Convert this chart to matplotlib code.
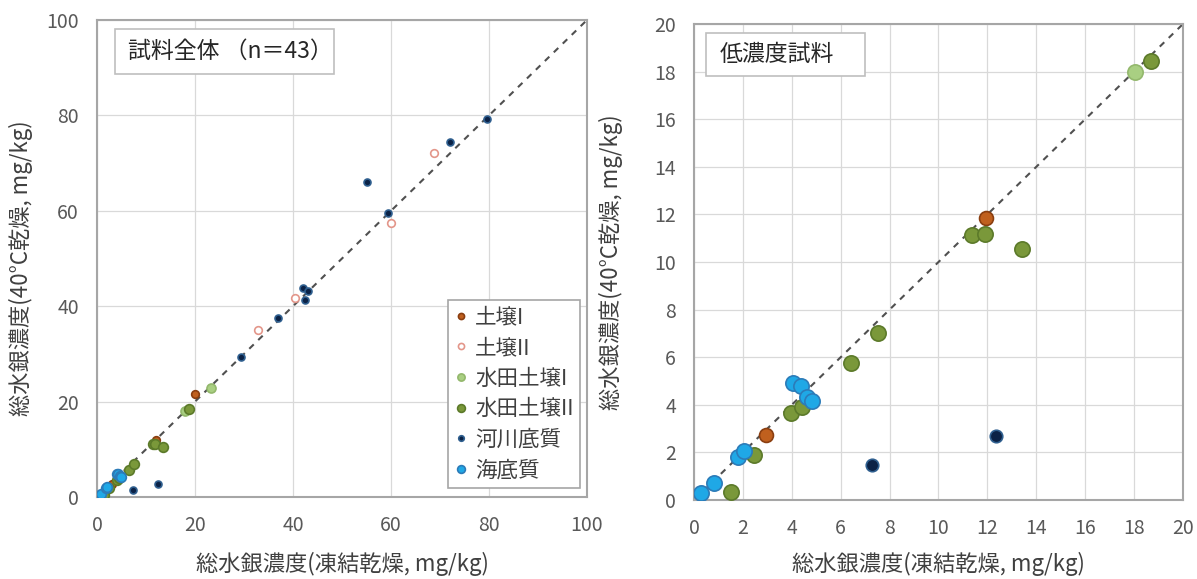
import matplotlib
matplotlib.use('Agg')
import matplotlib.pyplot as plt
from matplotlib.patches import Rectangle

plt.rcParams['font.family'] = ['Noto Sans CJK JP', 'DejaVu Sans']

# 凍結乾燥 (x) と 40°C乾燥 (y) の総水銀濃度, mg/kg
soil1_x = [2.96, 11.94, 20.1]
soil1_y = [2.72, 11.86, 21.5]
soil2_x = [32.8, 40.4, 60.1, 68.7]
soil2_y = [35.0, 41.8, 57.4, 72.2]
paddy1_x = [18.03, 23.2]
paddy1_y = [17.97, 22.8]
paddy2_x = [1.50, 2.44, 3.98, 4.41, 6.43, 7.53, 11.37, 11.92, 13.42, 18.71]
paddy2_y = [0.35, 1.90, 3.66, 3.89, 5.75, 7.01, 11.15, 11.19, 10.56, 18.43]
river_x = [7.26, 12.36, 29.4, 36.9, 42.4, 42.0, 43.1, 55.2, 59.3, 72.0, 79.5]
river_y = [1.48, 2.70, 29.4, 37.5, 41.3, 43.8, 43.2, 66.0, 59.5, 74.5, 79.2]
marine_x = [0.28, 0.82, 1.78, 2.05, 4.05, 4.38, 4.62, 4.83]
marine_y = [0.30, 0.70, 1.80, 2.06, 4.92, 4.79, 4.33, 4.16]

series = [
    ('土壌I', soil1_x, soil1_y, '#C0601E', '#8A3E10', 5.5, 10),
    ('土壌II', soil2_x, soil2_y, 'white', '#E3968A', 5.5, 9),
    ('水田土壌I', paddy1_x, paddy1_y, '#A9CF82', '#93B86C', 6.5, 11),
    ('水田土壌II', paddy2_x, paddy2_y, '#7A983A', '#5C7A2A', 7, 11),
    ('河川底質', river_x, river_y, '#0B2246', '#2F5F8F', 5, 9),
    ('海底質', marine_x, marine_y, '#1FA8E6', '#2C7BB8', 7, 11),
]

tick_color = '#595959'
grid_color = '#D9D9D9'
frame_color = '#A6A6A6'


def style_axes(ax, lim, step):
    ax.set_xlim(0, lim)
    ax.set_ylim(0, lim)
    ticks = list(range(0, lim + 1, step))
    ax.set_xticks(ticks)
    ax.set_yticks(ticks)
    ax.grid(True, color=grid_color, lw=0.9, zorder=0)
    ax.set_axisbelow(True)
    ax.tick_params(length=0, pad=13, labelsize=14, colors=tick_color)
    for sp in ax.spines.values():
        sp.set_color(frame_color)
        sp.set_linewidth(1.5)
    ax.plot([0, lim], [0, lim], ls=(0, (3, 3)), color='#505050', lw=1.5, zorder=2)
    ax.set_xlabel('総水銀濃度(凍結乾燥, mg/kg)', fontsize=16, color='#404040')
    ax.set_ylabel('総水銀濃度(40°C乾燥, mg/kg)', fontsize=16, color='#404040')


def title_box(ax, x0, x1, y0, y1, text, tx):
    ax.add_patch(Rectangle((x0, y0), x1 - x0, y1 - y0, transform=ax.transAxes,
                           facecolor='white', edgecolor='#BFBFBF', lw=1.2, zorder=5))
    ax.text(tx, (y0 + y1) / 2, text, transform=ax.transAxes, fontsize=16.5,
            color='#262626', ha='left', va='center', zorder=6)


fig = plt.figure(figsize=(11.97, 5.79), dpi=100)
ax1 = fig.add_axes([97 / 1197, 1 - 497 / 579, 490 / 1197, 477 / 579])
ax2 = fig.add_axes([694 / 1197, 1 - 500 / 579, 489 / 1197, 476 / 579])

style_axes(ax1, 100, 20)
style_axes(ax2, 20, 2)

for name, xs, ys, fc, ec, ms1, ms2 in series:
    ax1.plot(xs, ys, 'o', ms=ms1, mfc=fc, mec=ec, mew=1.2, ls='none', label=name, zorder=3)
    ax2.plot(xs, ys, 'o', ms=ms2, mfc=fc, mec=ec, mew=1.2, ls='none', zorder=3)

title_box(ax1, 0.037, 0.483, 0.887, 0.981, '試料全体 （n＝43）', 0.063)
title_box(ax2, 0.025, 0.350, 0.891, 0.981, '低濃度試料', 0.053)

leg = ax1.legend(loc='lower right', bbox_to_anchor=(0.986, 0.019), fontsize=15.5,
                 frameon=True, fancybox=False, framealpha=1, edgecolor=frame_color,
                 handlelength=0.6, handletextpad=0.35, labelspacing=0.4,
                 borderpad=0.3, borderaxespad=0, markerscale=0.8)
leg.get_frame().set_linewidth(1.2)
for t in leg.get_texts():
    t.set_color('#404040')

ax1.yaxis.set_label_coords(-0.13, 0.48)
ax2.yaxis.set_label_coords(-0.145, 0.5)
ax1.xaxis.set_label_coords(0.5, -0.115)
ax2.xaxis.set_label_coords(0.5, -0.11)

fig.savefig('out.png', dpi=100)
